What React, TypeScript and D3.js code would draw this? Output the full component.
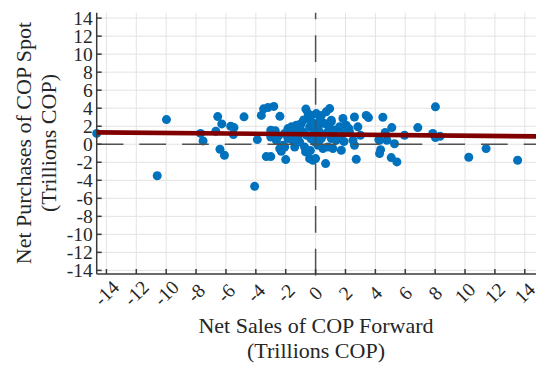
import React from "react";
import * as d3 from "d3";

// Net Sales of COP Forward (Trillions COP)
const salesForward: number[] = [
  -14.65, -9.98, -10.6, -7.7, -7.53, -6.55, -6.28, -6.68, -6.4, -6.1,
  -5.68, -5.46, -5.5, -4.79, -4.08, -3.9, -3.63, -3.48, -3.19, -2.8,
  -2.39, -3.0, -3.0, -3.3, -3.0, -2.5, -2.0, -2.3, -2.07, -0.65,
  -0.5, -0.67, -0.4, 0.94, 0.71, 0.38, 1.83, 2.6, 3.39, 3.54,
  4.5, 8.02, 6.84, 5.1, 4.66, 5.95, 4.28, 4.77, 5.28, 4.35,
  4.28, 5.06, 5.44, 7.84, 8.02, 8.33, 10.25, 11.41, 13.52, 2.72,
  2.6, 2.5, 3.0, 2.83, 2.23, 1.6, 1.05, 1.72, 1.16, 0.67,
  -0.18, 1.38, 0.49, -2.63, -2.07, -1.85, -1.62, -1.29, -0.96, -0.5,
  -0.29, -0.4, -0.85, -1.18, -1.52, -1.85, -2.19, -2.4, -0.74, -0.07,
  -0.07, -0.18, -1.07, -1.4, 0.05, 1.05, 0.6, 2.05, 0.16, 0.27,
  0.82, 1.27, 1.83, 2.27, 0.38, 1.05, 0.16, 0.82, 0.0, 4.23,
  -0.6, -0.3, 0.5, -1.0, -0.2, 0.3, -1.6, 0.9, -0.8, 1.5,
  -2.7, -0.35, 0.2, 1.9, -1.3,
];

// Net Purchases of COP Spot (Trillions COP)
const purchasesSpot: number[] = [
  1.2, 2.74, -3.5, 1.2, 0.37, 3.07, 2.26, 1.44, -0.55, -1.22,
  2.0, 1.85, 1.07, 3.04, -4.67, 0.52, 3.2, 3.93, 4.07, 4.2,
  3.1, 1.55, 0.8, -1.37, -1.37, 0.9, -1.7, -0.78, -0.3, 3.9,
  3.4, -0.85, -1.6, 3.96, 3.6, 3.2, 2.86, 3.03, 3.2, 2.96,
  3.0, 4.15, 1.85, 1.85, 1.3, 1.0, 0.44, 0.44, 0.05, -0.6,
  -1.04, -1.48, -1.96, 1.19, 0.74, 0.89, -1.44, -0.48, -1.78, -1.67,
  -0.11, 0.44, 1.0, 1.93, 1.74, 1.93, 2.48, -0.67, -0.48, -2.15,
  -1.78, 0.44, -0.48, 0.44, 1.19, 1.74, 1.93, 2.11, 2.3, 2.85,
  3.2, 1.93, 1.37, 0.81, 0.44, 0.63, -0.11, -0.48, -0.3, 0.26,
  1.0, 1.74, 0.26, -0.3, 3.4, 2.67, 2.3, 2.11, 1.93, 1.37,
  1.37, 1.56, 1.19, 1.37, 0.63, 0.63, -0.11, -0.3, -1.59, 0.52,
  1.0, 0.6, 1.0, 1.6, 2.4, 2.8, 1.1, 1.9, 2.7, 0.9,
  1.5, -0.7, 0.3, 0.3, 1.4,
];

// Fitted line (intercept, slope)
const fitIntercept = 1.1;
const fitSlope = -0.015;

const xTicks: number[] = [-14, -12, -10, -8, -6, -4, -2, 0, 2, 4, 6, 8, 10, 12, 14];
const yTicks: number[] = [-14, -12, -10, -8, -6, -4, -2, 0, 2, 4, 6, 8, 10, 12, 14];
const xDomain: [number, number] = [-14.65, 14.75];
const yDomain: [number, number] = [-14.4, 14.6];

const xTitle = ["Net Sales of COP Forward", "(Trillions COP)"];
const yTitle = ["Net Purchases of COP Spot", "(Trillions COP)"];

const W = 536;
const H = 370;
const L = 96.7;
const R = 536;
const T = 12.7;
const B = 274;

const FONT = "'Liberation Serif', 'Times New Roman', serif";

export default function App() {
  const x = d3.scaleLinear().domain(xDomain).range([L, R]);
  const y = d3.scaleLinear().domain(yDomain).range([B, T]);
  const axisColor = "#3a3a3a";
  const gridColor = "#e3e3e3";

  const fitLine = d3
    .line<number>()
    .x((d) => x(d))
    .y((d) => y(fitIntercept + fitSlope * d));

  const pts = salesForward.map((v, i) => [v, purchasesSpot[i]] as [number, number]);

  return (
    <svg
      width={W}
      height={H}
      style={{ position: "absolute", left: 0, top: 0, background: "#fff" }}
    >
      <rect x={0} y={0} width={W} height={H} fill="#fff" />
      {/* grid */}
      <g stroke={gridColor} strokeWidth={1}>
        {xTicks.map((t) => (
          <line key={"gx" + t} x1={x(t)} x2={x(t)} y1={T} y2={B} />
        ))}
        {yTicks.map((t) => (
          <line key={"gy" + t} x1={L} x2={R} y1={y(t)} y2={y(t)} />
        ))}
      </g>
      {/* points */}
      <g fill="#0072BD">
        {pts.map((p, i) => (
          <circle key={i} cx={x(p[0])} cy={y(p[1])} r={4.5} />
        ))}
      </g>
      {/* zero lines */}
      <g stroke="#505050" strokeWidth={1.5} strokeDasharray="26.7,16" fill="none">
        <line x1={L} x2={R} y1={y(0)} y2={y(0)} />
        <line x1={x(0)} x2={x(0)} y1={B + 1.5} y2={T} />
      </g>
      {/* fitted line */}
      <path d={fitLine(xDomain) || ""} stroke="#800000" strokeWidth={4.6} fill="none" />
      {/* axes */}
      <g stroke={axisColor} strokeWidth={1.5}>
        <line x1={L} x2={L} y1={T} y2={B} />
        <line x1={L} x2={R} y1={B} y2={B} />
        {yTicks.map((t) => (
          <line key={"ty" + t} x1={L} x2={L + 5} y1={y(t)} y2={y(t)} />
        ))}
        {xTicks.map((t) => (
          <line key={"tx" + t} x1={x(t)} x2={x(t)} y1={B} y2={B - 5} />
        ))}
      </g>
      {/* tick labels */}
      <g fontFamily={FONT} fontSize={19.5} fill="#262626">
        {yTicks.map((t) => (
          <text key={"ly" + t} x={L - 4} y={y(t)} dy="0.34em" textAnchor="end">
            {String(t)}
          </text>
        ))}
        {xTicks.map((t) => (
          <text
            key={"lx" + t}
            transform={`translate(${x(t)},${293}) rotate(-45)`}
            dy="0.34em"
            textAnchor="middle"
          >
            {String(t)}
          </text>
        ))}
      </g>
      {/* titles */}
      <g fontFamily={FONT} fontSize={22} fill="#262626" textAnchor="middle">
        <text x={316} y={333}>{xTitle[0]}</text>
        <text x={316} y={358}>{xTitle[1]}</text>
        <text transform={`translate(31,${143}) rotate(-90)`}>{yTitle[0]}</text>
        <text transform={`translate(56,${143}) rotate(-90)`}>{yTitle[1]}</text>
      </g>
    </svg>
  );
}
